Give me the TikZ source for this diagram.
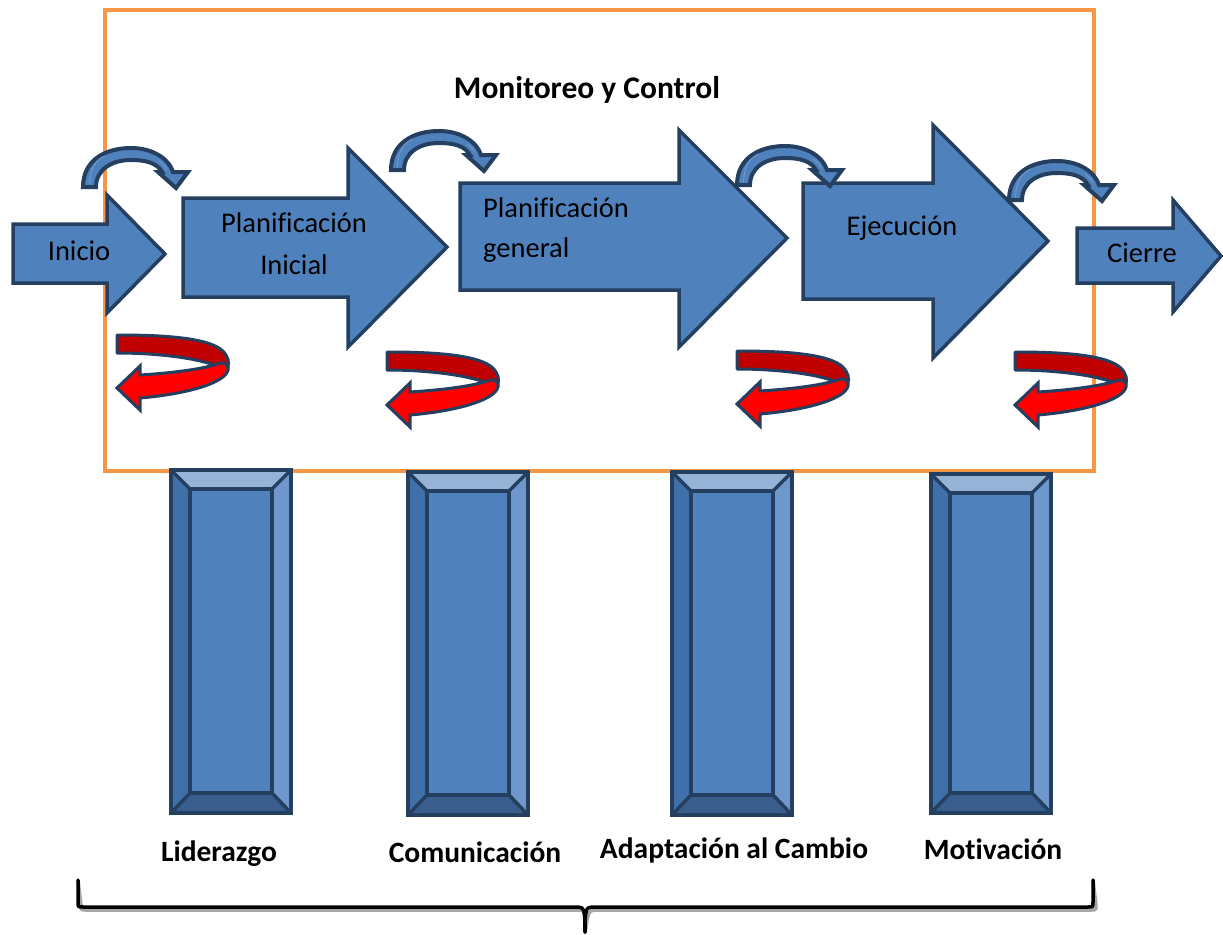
\documentclass[tikz,border=0pt]{standalone}
\usepackage{fontspec}
\setmainfont{Carlito}[Ligatures=NoCommon]
\definecolor{navy}{HTML}{243F60}
\definecolor{boxblue}{HTML}{4F81BD}
\definecolor{lightblue}{HTML}{95B3D7}
\definecolor{stripeblue}{HTML}{6F97CB}
\definecolor{leftbevel}{HTML}{4070AA}
\definecolor{rightbevel}{HTML}{6F97CB}
\definecolor{bottombevel}{HTML}{395E8D}
\definecolor{frameorange}{HTML}{F79646}
\definecolor{darkred}{HTML}{C00000}
\definecolor{brightred}{HTML}{FF0000}
\definecolor{braceshadow}{HTML}{A6A6A6}
\tikzset{
  blockarrow/.style={draw=navy, fill=boxblue, line width=3.5pt, line join=miter},
  looparrow/.style={draw=navy, fill=boxblue, line width=4pt, line join=miter},
  ribbonback/.style={draw=navy, fill=darkred, line width=3pt, line join=round},
  ribbonfront/.style={draw=navy, fill=brightred, line width=3pt, line join=miter},
  bevelline/.style={draw=navy, line width=3.5pt},
  steplabel/.style={font=\fontsize{28.5}{34}\selectfont, inner sep=0pt, anchor=base},
  pillarlabel/.style={font=\bfseries\fontsize{29.5}{35}\selectfont, inner sep=0pt, anchor=base},
  bracepath/.style={line width=3.5pt, line cap=round, line join=round}
}
\begin{document}
\begin{tikzpicture}[x=1pt,y=-1pt]
\useasboundingbox (0,0) rectangle (1223,934);

% frame of the monitoring and control phase
\draw[frameorange, line width=3.5pt] (105,10) rectangle (1094,471);
\node[pillarlabel, font=\bfseries\fontsize{31.5}{38}\selectfont] (mon) at (587,99) {Monitoreo y Control};

% process steps
\draw[blockarrow] (13,224) -- (107,224) -- (107,195) -- (165,254) -- (107,313) -- (107,283) -- (13,283) -- cycle;
\draw[blockarrow] (183,198) -- (348,198) -- (348,148) -- (447,247) -- (348,347) -- (348,297) -- (183,297) -- cycle;
\draw[blockarrow] (460,183) -- (679,183) -- (679,130) -- (787,238) -- (679,347) -- (679,290) -- (460,290) -- cycle;
\draw[blockarrow] (803,183) -- (933,183) -- (933,125) -- (1048,241) -- (933,358) -- (933,299) -- (803,299) -- cycle;
\draw[blockarrow] (1077,228) -- (1173,228) -- (1173,200) -- (1221,256) -- (1173,312) -- (1173,283) -- (1077,283) -- cycle;

\node[steplabel] (inicio) at (79,260) {Inicio};
\node[steplabel] (planA) at (294,232) {Planificación};
\node[steplabel] (planB) at (294,274) {Inicial};
\node[steplabel, anchor=base west] (genA) at (483,217) {Planificación};
\node[steplabel, anchor=base west] (genB) at (483,257) {general};
\node[steplabel] (ejec) at (902,235) {Ejecución};
\node[steplabel] (cierre) at (1142,262) {Cierre};

% curved arrows passing from one step to the next
\foreach \fx/\fy in {89/187, 397/170, 743/185, 1015/200} {
  \begin{scope}[shift={(\fx,\fy)}]
    \draw[looparrow] (-6,0) .. controls (-6,-28) and (18,-39) .. (42,-39)
      .. controls (64,-39) and (80,-28) .. (84,-15) -- (99,-15) -- (87,1) -- (69,-15) -- (73,-15)
      .. controls (68,-24) and (57,-27) .. (42,-27) .. controls (22,-27) and (7,-17) .. (7,0) -- cycle;
    \draw[stripeblue, line width=1pt] (0.5,-3) .. controls (1,-20) and (8,-28) .. (16,-31);
    \draw[stripeblue, line width=1pt] (70,-26) .. controls (74,-23) and (77,-20) .. (78,-17);
  \end{scope}
}

% red feedback loops
\foreach \rx/\ry in {117/388, 387/405, 737/404, 1015/405} {
  \begin{scope}[shift={(\rx,\ry)}]
    \draw[ribbonback] (0,-53) .. controls (50,-53) and (100,-50) .. (109,-33)
      .. controls (113,-27) and (112,-20) .. (108,-16) -- (100,-22)
      .. controls (80,-30) and (40,-35) .. (0,-35) -- cycle;
    \draw[ribbonfront] (0,0) -- (23,-22) -- (23,-13) .. controls (55,-15) and (88,-19) .. (103,-25)
      .. controls (109,-26) and (112,-22) .. (111,-18) .. controls (108,-5) and (70,6) .. (23,10)
      -- (23,22) -- cycle;
  \end{scope}
}

% supporting pillars
\foreach \px/\py/\pb in {171/470/813, 408/472/815, 672/472/815, 931/474/813} {
  \fill[lightblue] (\px,\py) -- (\px+120,\py) -- (\px+101,\py+19) -- (\px+19,\py+19) -- cycle;
  \fill[leftbevel] (\px,\py) -- (\px+19,\py+19) -- (\px+19,\pb-20) -- (\px,\pb) -- cycle;
  \fill[rightbevel] (\px+120,\py) -- (\px+101,\py+19) -- (\px+101,\pb-20) -- (\px+120,\pb) -- cycle;
  \fill[bottombevel] (\px,\pb) -- (\px+19,\pb-20) -- (\px+101,\pb-20) -- (\px+120,\pb) -- cycle;
  \fill[boxblue] (\px+19,\py+19) rectangle (\px+101,\pb-20);
  \draw[bevelline] (\px+19,\py+19) rectangle (\px+101,\pb-20);
  \draw[bevelline] (\px,\py) -- (\px+19,\py+19) (\px+120,\py) -- (\px+101,\py+19)
    (\px,\pb) -- (\px+19,\pb-20) (\px+120,\pb) -- (\px+101,\pb-20);
  \draw[bevelline] (\px,\py) rectangle (\px+120,\pb);
}

\node[pillarlabel] (lid) at (219,861) {Liderazgo};
\node[pillarlabel] (com) at (475,862) {Comunicación};
\node[pillarlabel] (ada) at (734,858) {Adaptación al Cambio};
\node[pillarlabel] (mot) at (993,859) {Motivación};

% brace grouping the pillars
\coordinate (bl) at (78,880);
\coordinate (br) at (1093,880);
\coordinate (bt) at (585,932);
\begin{scope}[shift={(3,3)}]
  \draw[bracepath, braceshadow] (bl) -- (78,902) .. controls (78,907) .. (83,907) -- (578,907)
    .. controls (584,907) and (585,910) .. (bt);
  \draw[bracepath, braceshadow] (br) -- (1093,902) .. controls (1093,907) .. (1088,907) -- (592,907)
    .. controls (586,907) and (585,910) .. (bt);
\end{scope}
\draw[bracepath] (bl) -- (78,902) .. controls (78,907) .. (83,907) -- (578,907)
  .. controls (584,907) and (585,910) .. (bt);
\draw[bracepath] (br) -- (1093,902) .. controls (1093,907) .. (1088,907) -- (592,907)
  .. controls (586,907) and (585,910) .. (bt);
\end{tikzpicture}
\end{document}
